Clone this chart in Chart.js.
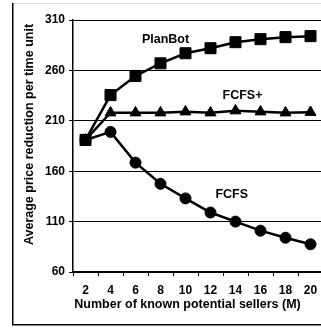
<!DOCTYPE html>
<html><head><meta charset="utf-8">
<script src="https://cdn.jsdelivr.net/npm/chart.js@4.4.0/dist/chart.umd.min.js"></script>
<style>html,body{margin:0;padding:0;overflow:hidden;background:#fff;width:321px;height:329px}
canvas{display:block}</style></head><body>
<canvas id="c" width="345" height="329" style="width:345px;height:329px"></canvas>
<script>
const categories = ['2','4','6','8','10','12','14','16','18','20'];
const planBot  = [191, 235.5, 254.5, 267, 277, 282, 288, 291, 293, 294];
const fcfsPlus = [191, 218, 218, 218, 219, 218, 220, 219, 218, 218.5];
const fcfs     = [191, 199, 168.5, 147.5, 133, 119, 110, 101, 94, 87.5];
const yMin = 60, yMax = 310, yStep = 50;
const xTitle = 'Number of known potential sellers (M)';
const yTitle = 'Average price reduction per time unit';
const seriesNames = ['PlanBot', 'FCFS+', 'FCFS'];

const FONT = '"Liberation Sans", Arial, Helvetica, sans-serif';

const decor = {
  id: 'decor',
  beforeDraw(chart) {
    const ctx = chart.ctx;
    ctx.save();
    ctx.fillStyle = '#fff';
    ctx.fillRect(0, 0, chart.width, chart.height);
    ctx.strokeStyle = '#ddd';
    ctx.lineWidth = 1;
    ctx.beginPath(); ctx.moveTo(12, 3.5); ctx.lineTo(chart.width, 3.5); ctx.stroke();
    ctx.strokeStyle = '#000';
    ctx.lineWidth = 1.5;
    ctx.beginPath(); ctx.moveTo(12.75, 3); ctx.lineTo(12.75, 324.75); ctx.lineTo(chart.width, 324.75); ctx.stroke();
    ctx.restore();
  },
  afterDraw(chart) {
    const ctx = chart.ctx;
    const xs = chart.scales.x, ys = chart.scales.y;
    ctx.save();
    ctx.fillStyle = '#000';
    ctx.font = 'bold 12.5px ' + FONT;
    ctx.textAlign = 'center';
    ctx.textBaseline = 'alphabetic';
    ctx.fillText(xTitle, 187.5, 308.3);
    ctx.save();
    ctx.translate(30, 134.5);
    ctx.rotate(-Math.PI / 2);
    ctx.textBaseline = 'middle';
    ctx.fillText(yTitle, 0, 0);
    ctx.restore();
    const anchors = [[3.2, 287], [6.28, 231.3], [5.85, 133.1]];
    seriesNames.forEach((n, i) => {
      ctx.fillText(n, xs.getPixelForValue(anchors[i][0]), ys.getPixelForValue(anchors[i][1]));
    });
    ctx.restore();
  }
};

new Chart(document.getElementById('c'), {
  type: 'line',
  data: {
    labels: categories,
    datasets: [
      { label: seriesNames[0], data: planBot, borderColor: '#000', backgroundColor: '#000', borderWidth: 2.5,
        pointStyle: 'rect', pointRadius: 7.8, pointBorderWidth: 1 },
      { label: seriesNames[1], data: fcfsPlus, borderColor: '#000', backgroundColor: '#000', borderWidth: 2.5,
        pointStyle: 'triangle', pointRadius: 6.3, pointBorderWidth: 1 },
      { label: seriesNames[2], data: fcfs, borderColor: '#000', backgroundColor: '#000', borderWidth: 2.5,
        pointStyle: 'circle', pointRadius: 5.5, pointBorderWidth: 1 }
    ]
  },
  options: {
    responsive: false,
    animation: false,
    events: [],
    layout: { padding: { left: 0, top: 20, right: 22, bottom: 0 } },
    plugins: { legend: { display: false }, tooltip: { enabled: false }, title: { display: false } },
    elements: { line: { tension: 0 } },
    scales: {
      x: {
        type: 'category',
        offset: true,
        grid: { offset: true, drawOnChartArea: false, drawTicks: true, tickLength: 4, color: '#000', lineWidth: 1 },
        border: { display: true, color: '#000', width: 1.5 },
        ticks: { color: '#000', font: { family: FONT, weight: 'bold', size: 12 }, padding: 7, maxRotation: 0, autoSkip: false },
        afterFit(s) { s.height = 57; }
      },
      y: {
        min: yMin, max: yMax,
        ticks: { stepSize: yStep, color: '#000', font: { family: FONT, weight: 'bold', size: 12 }, padding: 4 },
        grid: { color: '#000', lineWidth: 1, tickLength: 4, drawTicks: true },
        border: { display: true, color: '#000', width: 1.5 },
        afterFit(s) { s.width = 73; }
      }
    }
  },
  plugins: [decor]
});
</script></body></html>
